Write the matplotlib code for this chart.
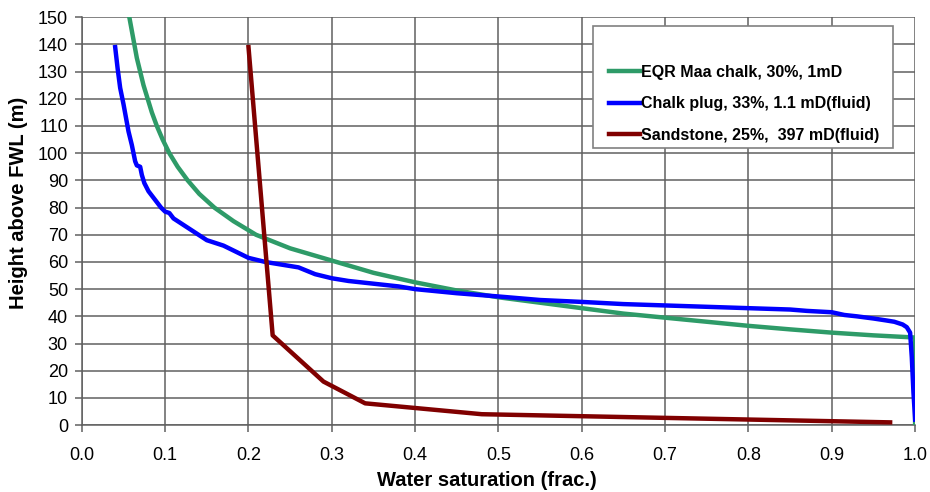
import numpy as np
import matplotlib.pyplot as plt
from matplotlib.patches import Rectangle

plt.rcParams['font.family'] = ['Liberation Sans', 'DejaVu Sans']

# EQR Maa chalk
green_sw = [0.057, 0.060, 0.063, 0.066, 0.070, 0.074, 0.079, 0.084, 0.090, 0.097, 0.105,
            0.115, 0.127, 0.141, 0.159, 0.182, 0.209, 0.25, 0.30, 0.35, 0.40, 0.45,
            0.50, 0.55, 0.60, 0.65, 0.70, 0.75, 0.80, 0.85, 0.90, 0.95, 1.00, 1.00]
green_h = [150, 145, 140, 135, 130, 125, 120, 115, 110, 105, 100,
           95, 90, 85, 80, 75, 70, 65, 60.5, 56, 52.5, 49.5,
           47, 45, 43, 41, 39.5, 38, 36.5, 35.2, 34, 33, 32.2, 0]

# Chalk plug (stepped)
blue_sw = [0.040, 0.043, 0.046, 0.050, 0.053, 0.056, 0.060, 0.064, 0.066, 0.070, 0.072,
           0.075, 0.080, 0.085, 0.090, 0.095, 0.100, 0.105, 0.110, 0.115, 0.120, 0.130,
           0.140, 0.150, 0.160, 0.170, 0.180, 0.190, 0.200, 0.220, 0.240, 0.260, 0.280,
           0.300, 0.320, 0.350, 0.380, 0.400, 0.450, 0.500, 0.550, 0.600, 0.650, 0.700,
           0.750, 0.800, 0.850, 0.870, 0.900, 0.915, 0.930, 0.950, 0.965, 0.975, 0.985,
           0.990, 0.994, 0.996, 0.998, 1.000]
blue_h = [139, 131, 124, 118, 113, 108, 103, 97, 95.5, 95, 92,
          89, 86, 84, 82, 80, 78.5, 78, 76, 75, 74, 72,
          70, 68, 67, 66, 64.5, 63, 61.5, 60, 59, 58, 55.5,
          54, 53, 52, 51, 50, 48.5, 47.3, 46, 45.3, 44.5, 44,
          43.5, 43, 42.5, 42, 41.5, 40.5, 40, 39.2, 38.5, 38, 37,
          36, 34, 25, 12, 2]

# Sandstone
red_sw = [0.20, 0.229, 0.29, 0.34, 0.48, 0.97]
red_h = [139, 33, 16, 8, 4, 1]

fig = plt.figure(figsize=(9.3, 4.92), dpi=100)
ax = fig.add_axes([0.088, 0.136, 0.896, 0.829])

ax.plot(green_sw, green_h, color='#2e9b68', lw=3.2, label='EQR Maa chalk, 30%, 1mD', zorder=3)
ax.plot(blue_sw, blue_h, color='#0000ff', lw=3.2, label='Chalk plug, 33%, 1.1 mD(fluid)', zorder=4)
ax.plot(red_sw, red_h, color='#800000', lw=3.2, label='Sandstone, 25%,  397 mD(fluid)', zorder=5)

ax.set_xlim(0, 1.0)
ax.set_ylim(0, 150)
ax.set_xticks(np.arange(0, 1.01, 0.1))
ax.set_yticks(np.arange(0, 151, 10))
ax.set_xticklabels(['%.1f' % v for v in np.arange(0, 1.01, 0.1)])
ax.grid(True, color='#606060', lw=1.1)
ax.set_axisbelow(True)
for s in ['top', 'right']:
    ax.spines[s].set_visible(False)
for s in ['left', 'bottom']:
    ax.spines[s].set_color('#606060')
    ax.spines[s].set_linewidth(1.1)
ax.tick_params(direction='out', length=5, width=1.1, color='#606060', labelsize=13)
ax.tick_params(axis='x', pad=11)
ax.tick_params(axis='y', pad=5)

ax.set_xlabel('Water saturation (frac.)', fontsize=14.5, fontweight='bold', labelpad=5)
ax.set_ylabel('Height above FWL (m)', fontsize=14.5, fontweight='bold', labelpad=7)
ax.xaxis.label.set_x(0.486)
ax.yaxis.label.set_y(0.545)

# legend box (white, grey frame) with a frameless legend on top
W, H = 930, 492
box = Rectangle((593 / W, 1 - 148 / H), 300 / W, 122 / H, transform=fig.transFigure,
                facecolor='white', edgecolor='#808080', lw=1.2, zorder=6)
ax.add_patch(box)
box.set_clip_on(False)
leg = ax.legend(loc='upper left', bbox_to_anchor=(609 / W, 1 - 65 / H),
                bbox_transform=fig.transFigure, borderaxespad=0, borderpad=0,
                frameon=False, handlelength=1.95, handletextpad=0.05,
                labelspacing=1.02, prop={'weight': 'bold', 'size': 11.5})
leg.set_zorder(7)

fig.savefig('out.png', dpi=100)
